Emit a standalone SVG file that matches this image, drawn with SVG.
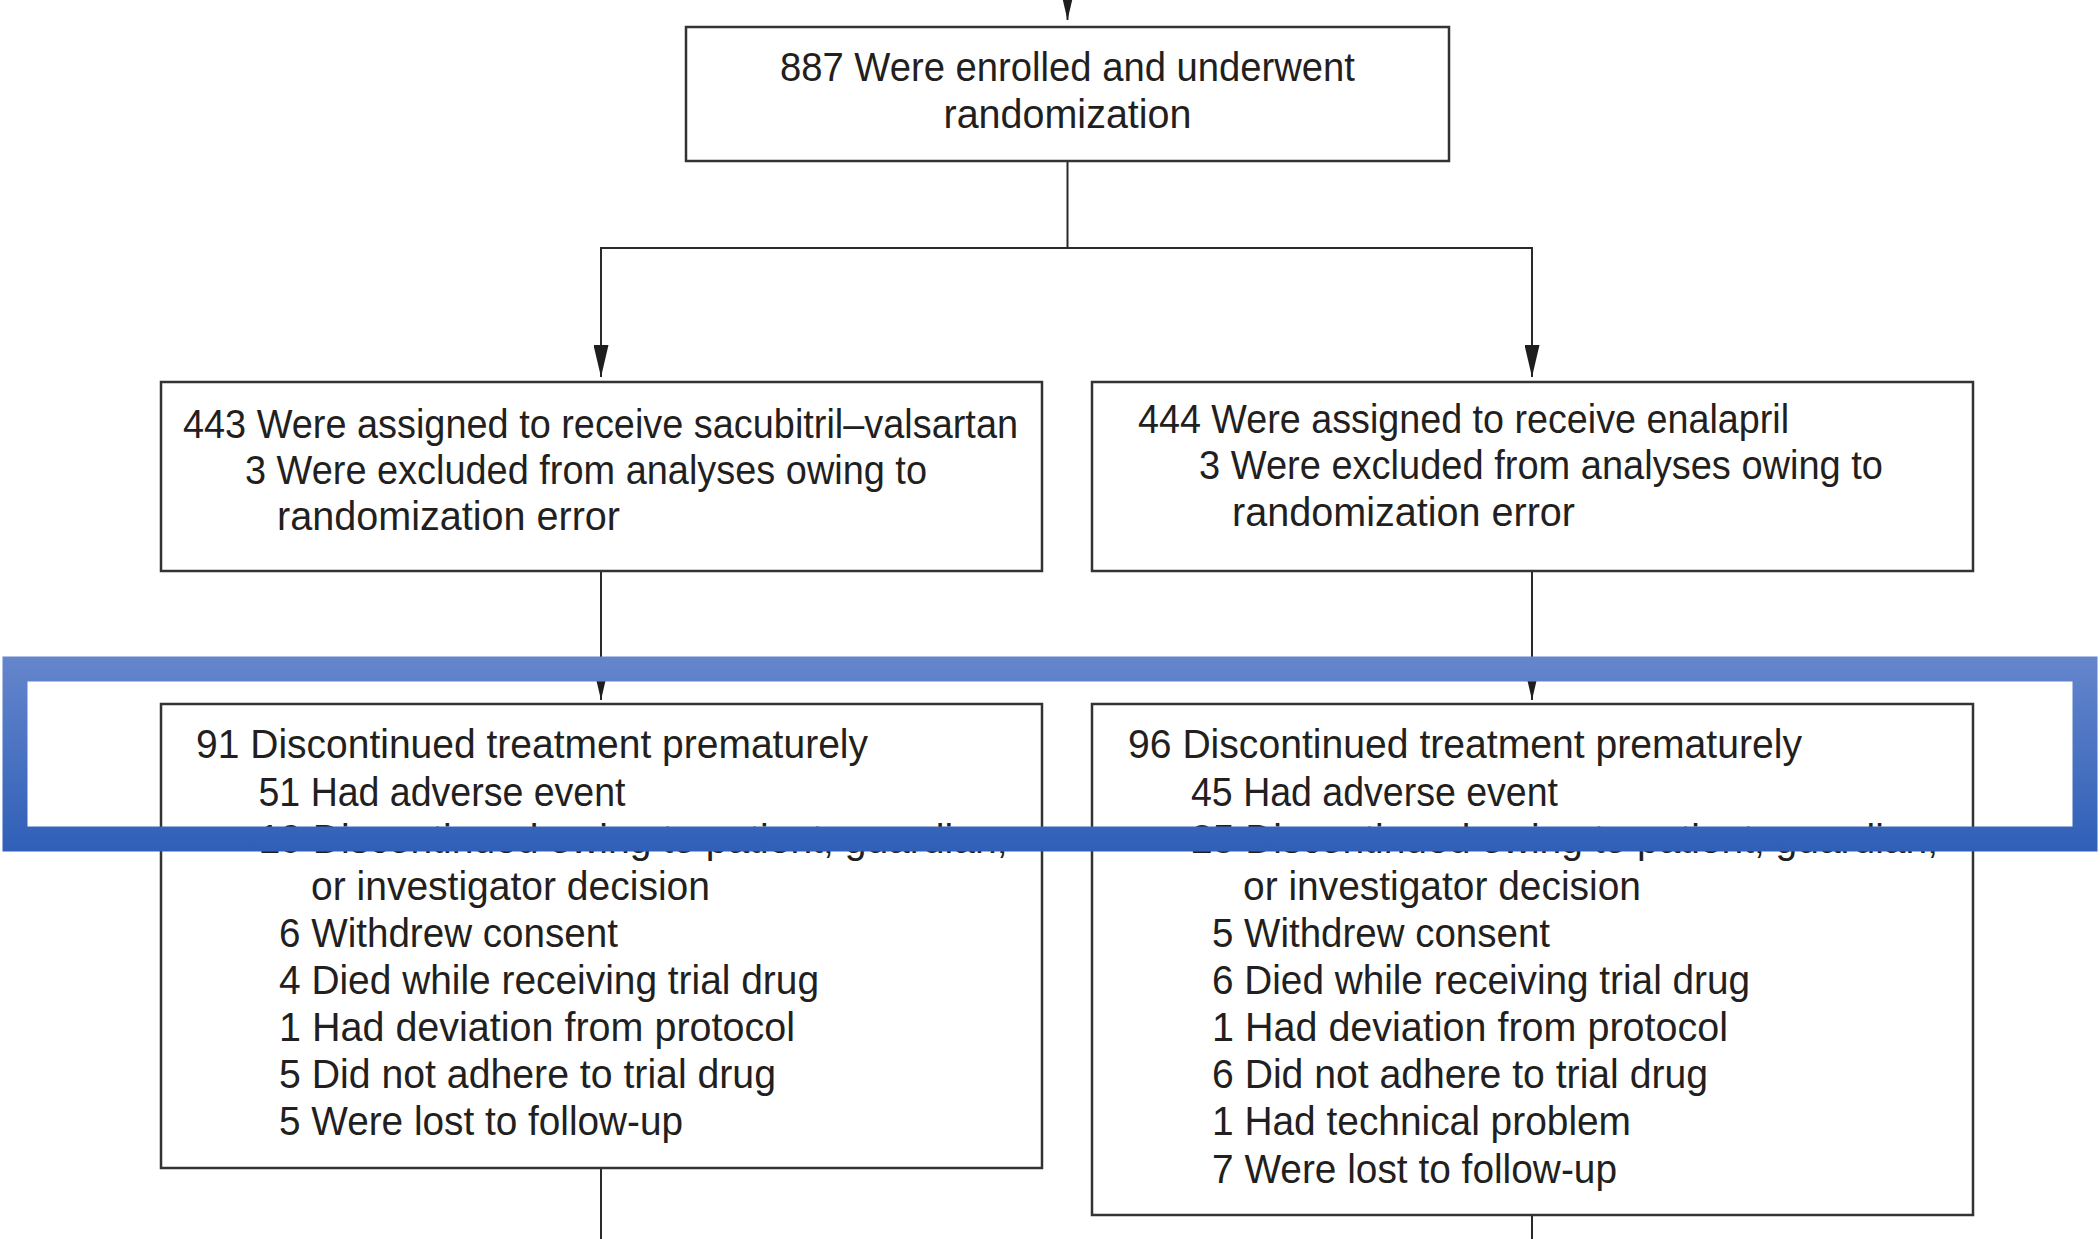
<svg xmlns="http://www.w3.org/2000/svg" width="2100" height="1239" viewBox="0 0 2100 1239">
  <style>
    .box { fill: #ffffff; stroke: #333333; stroke-width: 2.5; }
    .conn { fill: none; stroke: #2a2a2a; stroke-width: 2; }
    .t { font-family: "Liberation Sans", Arial, sans-serif; font-size: 40px; fill: #231f20; }
  </style>
  <defs>
    <marker id="arr" viewBox="0 0 32 15" refX="32" refY="7.5" markerWidth="32" markerHeight="15" markerUnits="userSpaceOnUse" orient="auto">
      <path d="M0,0 L32,7.5 L0,15 z" fill="#1e1e1e"/>
    </marker>
    <linearGradient id="blue" gradientUnits="userSpaceOnUse" x1="0" y1="656" x2="0" y2="852">
      <stop offset="0" stop-color="#6586cc"/>
      <stop offset="1" stop-color="#2f5fb7"/>
    </linearGradient>
  </defs>

  <g id="connectors">
    <line class="conn" x1="1067.5" y1="-20" x2="1067.5" y2="20" marker-end="url(#arr)"/>
    <polyline class="conn" points="1067.5,161 1067.5,248 601,248 601,377" marker-end="url(#arr)"/>
    <polyline class="conn" points="1067.5,248 1532,248 1532,377" marker-end="url(#arr)"/>
    <line class="conn" x1="601" y1="571" x2="601" y2="700" marker-end="url(#arr)"/>
    <line class="conn" x1="1532" y1="571" x2="1532" y2="700" marker-end="url(#arr)"/>
    <line class="conn" x1="601" y1="1168" x2="601" y2="1239"/>
    <line class="conn" x1="1532" y1="1215" x2="1532" y2="1239"/>
  </g>

  <g id="node-enrolled">
    <rect class="box" x="686" y="27" width="763" height="134"/>
    <text class="t" x="1067.5" y="81" text-anchor="middle" textLength="575" lengthAdjust="spacingAndGlyphs">887 Were enrolled and underwent</text>
    <text class="t" x="1067.5" y="128" text-anchor="middle" textLength="248" lengthAdjust="spacingAndGlyphs">randomization</text>
  </g>

  <g id="node-sacubitril">
    <rect class="box" x="161" y="382" width="881" height="189"/>
    <text class="t" x="183" y="438" textLength="835" lengthAdjust="spacingAndGlyphs">443 Were assigned to receive sacubitril–valsartan</text>
    <text class="t" x="245" y="484" textLength="682" lengthAdjust="spacingAndGlyphs">3 Were excluded from analyses owing to</text>
    <text class="t" x="277" y="530" textLength="343" lengthAdjust="spacingAndGlyphs">randomization error</text>
  </g>

  <g id="node-enalapril">
    <rect class="box" x="1092" y="382" width="881" height="189"/>
    <text class="t" x="1138" y="433" textLength="651" lengthAdjust="spacingAndGlyphs">444 Were assigned to receive enalapril</text>
    <text class="t" x="1199" y="479" textLength="684" lengthAdjust="spacingAndGlyphs">3 Were excluded from analyses owing to</text>
    <text class="t" x="1232" y="526" textLength="343" lengthAdjust="spacingAndGlyphs">randomization error</text>
  </g>

  <g id="node-discontinued-sacubitril">
    <rect class="box" x="161" y="704" width="881" height="464"/>
    <text class="t" x="196" y="758" textLength="672" lengthAdjust="spacingAndGlyphs">91 Discontinued treatment prematurely</text>
    <text class="t" x="258.5" y="806" textLength="367" lengthAdjust="spacingAndGlyphs">51 Had adverse event</text>
    <text class="t" x="258.5" y="853" textLength="749" lengthAdjust="spacingAndGlyphs">19 Discontinued owing to patient, guardian,</text>
    <text class="t" x="311" y="900" textLength="399" lengthAdjust="spacingAndGlyphs">or investigator decision</text>
    <text class="t" x="279" y="947" textLength="339" lengthAdjust="spacingAndGlyphs">6 Withdrew consent</text>
    <text class="t" x="279" y="994" textLength="540" lengthAdjust="spacingAndGlyphs">4 Died while receiving trial drug</text>
    <text class="t" x="279" y="1041" textLength="516" lengthAdjust="spacingAndGlyphs">1 Had deviation from protocol</text>
    <text class="t" x="279" y="1088" textLength="497" lengthAdjust="spacingAndGlyphs">5 Did not adhere to trial drug</text>
    <text class="t" x="279" y="1135" textLength="404" lengthAdjust="spacingAndGlyphs">5 Were lost to follow-up</text>
  </g>

  <g id="node-discontinued-enalapril">
    <rect class="box" x="1092" y="704" width="881" height="511"/>
    <text class="t" x="1128" y="758" textLength="674" lengthAdjust="spacingAndGlyphs">96 Discontinued treatment prematurely</text>
    <text class="t" x="1191" y="806" textLength="367" lengthAdjust="spacingAndGlyphs">45 Had adverse event</text>
    <text class="t" x="1191" y="853" textLength="747" lengthAdjust="spacingAndGlyphs">25 Discontinued owing to patient, guardian,</text>
    <text class="t" x="1243" y="900" textLength="398" lengthAdjust="spacingAndGlyphs">or investigator decision</text>
    <text class="t" x="1212" y="947" textLength="338" lengthAdjust="spacingAndGlyphs">5 Withdrew consent</text>
    <text class="t" x="1212" y="994" textLength="538" lengthAdjust="spacingAndGlyphs">6 Died while receiving trial drug</text>
    <text class="t" x="1212" y="1041" textLength="516" lengthAdjust="spacingAndGlyphs">1 Had deviation from protocol</text>
    <text class="t" x="1212" y="1088" textLength="496" lengthAdjust="spacingAndGlyphs">6 Did not adhere to trial drug</text>
    <text class="t" x="1212" y="1135" textLength="419" lengthAdjust="spacingAndGlyphs">1 Had technical problem</text>
    <text class="t" x="1212" y="1183" textLength="405" lengthAdjust="spacingAndGlyphs">7 Were lost to follow-up</text>
  </g>

  <g id="highlight-frame">
    <rect x="15" y="669" width="2070" height="170" fill="none" stroke="url(#blue)" stroke-width="25"/>
  </g>
</svg>
